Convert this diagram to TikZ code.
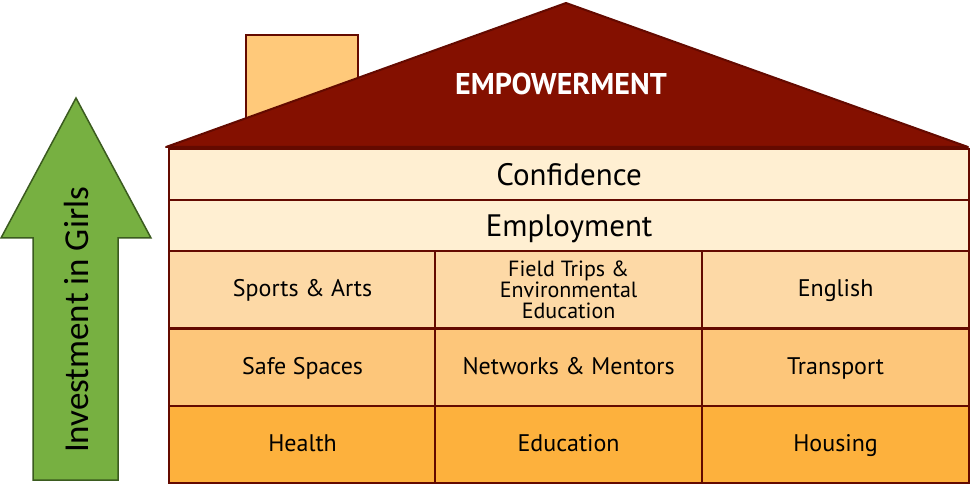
\documentclass[tikz,border=0pt]{standalone}
\usepackage{fontspec}
\setmainfont{PT Sans}
\newfontfamily\arrowfont{Carlito}
\definecolor{roofred}{HTML}{841000}
\definecolor{edge}{HTML}{640A00}
\definecolor{cream}{HTML}{FFEFD2}
\definecolor{rowa}{HTML}{FDD9A6}
\definecolor{rowb}{HTML}{FDC67A}
\definecolor{rowc}{HTML}{FDB13D}
\definecolor{chim}{HTML}{FFC97A}
\definecolor{arrgreen}{HTML}{77B041}
\definecolor{arredge}{HTML}{3B5B1F}
\tikzset{
  cellbase/.style={draw=edge, line width=2.2pt, anchor=north west, inner sep=0pt, align=center, text=black},
  wide/.style={cellbase, fill=cream, minimum width=800pt, minimum height=51pt, text height=25pt, text depth=4pt, font=\fontsize{31}{36}\selectfont},
  small/.style={cellbase, minimum width=267pt, minimum height=77pt, text height=18pt, text depth=5pt, font=\fontsize{24}{28}\selectfont},
}
\begin{document}
\begin{tikzpicture}[x=1pt,y=-1pt]
\useasboundingbox (0,0) rectangle (971,486);
% chimney
\node[draw=edge, line width=2pt, fill=chim, anchor=north west, minimum width=112pt, minimum height=114pt, inner sep=0pt] (chimney) at (245,34) {};
% roof
\coordinate (rl) at (166,147);
\coordinate (apex) at (566,3);
\coordinate (rr) at (968,147);
\filldraw[fill=roofred, draw=edge, line width=2pt, line join=round] (rl) -- (apex) -- (rr) -- cycle;
\node[text=white, font=\bfseries\fontsize{30}{34}\selectfont] (emp) at (561,84) {EMPOWERMENT};
% rows
\node[wide] (conf) at (168,148) {Confidence};
\node[wide] (empl) at (168,199) {Employment};
\node[small, fill=rowa] (sports) at (168,250) {Sports \& Arts};
\node[cellbase, minimum width=267pt, minimum height=77pt, fill=rowa, font=\fontsize{22}{21}\selectfont] (field) at (434,250) {Field Trips \&\\Environmental\\Education};
\node[small, fill=rowa] (english) at (701,250) {English};
\node[small, fill=rowb] (safe) at (168,328) {Safe Spaces};
\node[small, fill=rowb] (networks) at (434,328) {Networks \& Mentors};
\node[small, fill=rowb] (transport) at (701,328) {Transport};
\node[small, fill=rowc] (health) at (168,405) {Health};
\node[small, fill=rowc] (education) at (434,405) {Education};
\node[small, fill=rowc] (housing) at (701,405) {Housing};
% arrow
\filldraw[fill=arrgreen, draw=arredge, line width=1.5pt, line join=miter]
  (33,480) -- (33,238) -- (1,238) -- (76,98) -- (151,238) -- (118,238) -- (118,480) -- cycle;
\node[rotate=90, font=\arrowfont\fontsize{35}{40}\selectfont, text=black] (inv) at (76,320) {Investment in Girls};
\end{tikzpicture}
\end{document}
